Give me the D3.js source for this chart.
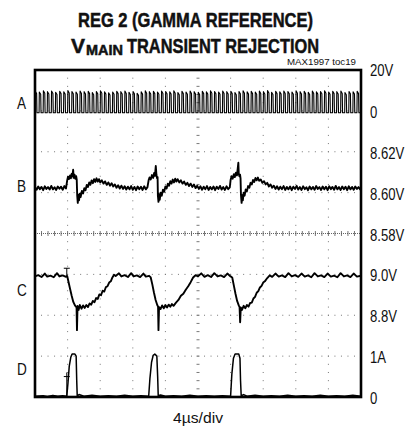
<!doctype html>
<html lang="en">
<head>
<meta charset="UTF-8">
<title>REG 2 (Gamma Reference) VMAIN Transient Rejection</title>
<script src="https://cdn.jsdelivr.net/npm/d3@7/dist/d3.min.js"></script>
<style>
    body { margin: 0; background: #fff; }
    svg text { font-family: "Liberation Sans Narrow", "Arial Narrow", "Liberation Sans", sans-serif; fill: #111; }
</style>
</head>
<body>
<svg id="chart" width="416" height="429"></svg>
<script>
// time axis, 4us/div, 10 divisions
const timeDomain = [0, 40];

// channel A: switching node, peak level of each 0.5us cycle (V)
const aPeriod = 0.5;
const aLow = -0.9;
const aPeaks = [
    9.6, 9.2, 9.8, 9.4, 9.7, 9.1, 9.6, 9.3, 9.9, 9.5,
    9.2, 9.7, 9.4, 9.6, 9.0, 9.5, 9.8, 9.3, 8.8, 9.2,
    9.6, 9.4, 9.7, 9.1, 9.5, 8.6, 9.3, 9.8, 9.4, 9.6,
    9.2, 9.7, 9.5, 9.3, 9.8, 9.0, 9.6, 9.2, 9.7, 9.4,
    9.1, 9.6, 9.3, 9.8, 9.5, 9.2, 9.7, 9.4, 9.6, 9.0,
    9.5, 9.8, 9.3, 9.6, 9.2, 9.7, 9.4, 9.9, 9.1, 9.6,
    9.3, 9.7, 9.5, 9.2, 9.8, 9.4, 9.6, 9.1, 9.7, 9.3,
    9.5, 9.8, 9.2, 9.6, 9.4, 9.7, 9.0, 9.5, 9.3, 9.6
];

// channel B: REG 2 output (V)
const bTrace = [
    [0,8.6026],[0.2,8.6014],[0.4,8.6030],[0.6,8.6017],[0.8,8.6028],[1.0,8.6012],[1.2,8.6031],[1.4,8.6018],
    [1.6,8.6027],[1.8,8.6015],[2.0,8.6033],[2.2,8.6016],[2.4,8.6026],[2.6,8.6013],[2.8,8.6030],[3.0,8.6019],
    [3.2,8.6029],[3.4,8.6014],[3.6,8.6032],[3.8,8.6020],
    [3.95,8.6060],[4.05,8.6078],[4.15,8.6066],[4.3,8.6084],[4.4,8.6070],[4.5,8.6092],[4.6,8.6080],
    [4.68,8.6112],[4.74,8.6072],[4.85,8.6088],[4.95,8.6068],[5.05,8.6080],[5.12,8.6064],
    [5.18,8.5985],[5.25,8.5950],[5.32,8.5990],[5.4,8.5962],[5.5,8.5995],[5.6,8.5978],[5.75,8.6008],
    [5.9,8.5996],[6.05,8.6022],[6.2,8.6012],[6.35,8.6038],[6.5,8.6028],[6.65,8.6050],[6.8,8.6038],
    [6.95,8.6060],[7.1,8.6046],[7.25,8.6066],[7.4,8.6052],[7.55,8.6070],[7.7,8.6054],[7.85,8.6066],
    [8.0,8.6050],[8.2,8.6060],[8.4,8.6044],[8.6,8.6055],[8.8,8.6038],[9.0,8.6050],[9.2,8.6034],
    [9.4,8.6046],[9.6,8.6030],[9.8,8.6040],[10.0,8.6024],[10.2,8.6036],[10.4,8.6020],[10.6,8.6034],
    [10.8,8.6018],[11.0,8.6031],[11.2,8.6015],[11.4,8.6029],[11.6,8.6016],[11.8,8.6032],[12.0,8.6014],
    [12.2,8.6028],[12.4,8.6012],[12.6,8.6030],[12.8,8.6017],[13.0,8.6029],[13.2,8.6013],[13.4,8.6031],
    [13.6,8.6016],[13.8,8.6027],
    [13.95,8.6062],[14.05,8.6074],[14.2,8.6064],[14.35,8.6086],[14.5,8.6072],[14.62,8.6096],[14.72,8.6082],
    [14.82,8.6130],[14.9,8.6086],[14.98,8.6070],[15.04,8.6076],
    [15.08,8.5985],[15.15,8.5955],[15.22,8.5992],[15.3,8.5965],[15.42,8.6000],[15.55,8.5985],[15.7,8.6014],
    [15.85,8.6004],[16.0,8.6030],[16.15,8.6020],[16.3,8.6044],[16.45,8.6034],[16.6,8.6056],[16.75,8.6044],
    [16.9,8.6064],[17.05,8.6050],[17.2,8.6068],[17.35,8.6054],[17.5,8.6066],[17.7,8.6050],[17.9,8.6060],
    [18.1,8.6044],[18.3,8.6054],[18.5,8.6038],[18.7,8.6048],[18.9,8.6032],[19.1,8.6044],[19.3,8.6028],
    [19.5,8.6040],[19.7,8.6022],[19.9,8.6034],[20.1,8.6018],[20.3,8.6031],[20.5,8.6014],[20.7,8.6029],
    [20.9,8.6017],[21.1,8.6032],[21.3,8.6013],[21.5,8.6028],[21.7,8.6016],[21.9,8.6030],[22.1,8.6012],
    [22.3,8.6029],[22.5,8.6018],[22.7,8.6033],[22.9,8.6015],[23.1,8.6027],[23.3,8.6013],[23.5,8.6031],
    [23.7,8.6017],[23.9,8.6026],
    [24.0,8.6062],[24.12,8.6080],[24.25,8.6068],[24.4,8.6090],[24.52,8.6076],[24.65,8.6098],[24.78,8.6084],
    [24.88,8.6120],[24.95,8.6146],[25.0,8.6094],[25.08,8.6080],[25.16,8.6088],[25.22,8.6070],
    [25.27,8.5990],[25.35,8.5950],[25.42,8.5988],[25.5,8.5962],[25.6,8.6000],[25.72,8.5985],[25.85,8.6015],
    [26.0,8.6006],[26.15,8.6032],[26.3,8.6024],[26.45,8.6048],[26.6,8.6040],[26.75,8.6062],[26.9,8.6052],
    [27.05,8.6072],[27.2,8.6060],[27.35,8.6074],[27.5,8.6058],[27.7,8.6064],[27.9,8.6048],[28.1,8.6056],
    [28.3,8.6040],[28.5,8.6048],[28.7,8.6030],[28.9,8.6040],[29.1,8.6024],[29.3,8.6034],[29.5,8.6018],
    [29.7,8.6031],[29.9,8.6015],[30.1,8.6029],[30.3,8.6017],[30.5,8.6032],[30.7,8.6013],[30.9,8.6028],
    [31.1,8.6016],[31.3,8.6030],[31.5,8.6012],[31.7,8.6029],[31.9,8.6018],[32.1,8.6033],[32.3,8.6015],
    [32.5,8.6027],[32.7,8.6013],[32.9,8.6031],[33.1,8.6017],[33.3,8.6026],[33.5,8.6012],[33.7,8.6030],
    [33.9,8.6016],[34.1,8.6028],[34.3,8.6014],[34.5,8.6032],[34.7,8.6018],[34.9,8.6027],[35.1,8.6013],
    [35.3,8.6030],[35.5,8.6016],[35.7,8.6029],[35.9,8.6012],[36.1,8.6031],[36.3,8.6017],[36.5,8.6028],
    [36.7,8.6014],[36.9,8.6033],[37.1,8.6016],[37.3,8.6027],[37.5,8.6013],[37.7,8.6030],[37.9,8.6017],
    [38.1,8.6029],[38.3,8.6012],[38.5,8.6031],[38.7,8.6016],[38.9,8.6028],[39.1,8.6014],[39.3,8.6030],
    [39.5,8.6018],[39.7,8.6027],[39.9,8.6015],[40.0,8.6024]
];

// channel C: VMAIN (V)
const cTrace = [
    [0,8.990],[0.4,8.996],[0.8,8.987],[1.2,9.004],[1.5,8.989],[1.9,8.994],[2.3,8.986],[2.7,9.006],
    [3.0,8.990],[3.4,8.995],[3.8,8.988],[3.95,8.992],
    [4.1,8.965],[4.3,8.930],[4.5,8.895],[4.7,8.865],[4.9,8.848],[5.1,8.838],[5.15,8.727],[5.22,8.845],
    [5.35,8.826],[5.5,8.850],[5.7,8.832],[5.9,8.848],[6.1,8.836],[6.3,8.850],[6.5,8.840],[6.7,8.858],
    [6.9,8.852],[7.1,8.870],[7.3,8.864],[7.5,8.884],[7.7,8.880],[7.9,8.902],[8.1,8.898],[8.3,8.920],
    [8.5,8.916],[8.7,8.938],[8.9,8.942],[9.1,8.960],[9.3,8.966],[9.5,8.985],[9.7,8.998],[9.9,8.992],
    [10.3,9.005],[10.6,8.990],[11.0,8.996],[11.4,8.987],[11.8,9.006],[12.1,8.990],[12.5,8.995],
    [12.9,8.987],[13.3,9.004],[13.6,8.989],[14.0,8.993],
    [14.2,8.985],[14.4,8.950],[14.6,8.910],[14.8,8.875],[15.0,8.850],[15.1,8.842],[15.15,8.727],
    [15.22,8.840],[15.4,8.830],[15.6,8.848],[15.8,8.834],[16.0,8.850],[16.2,8.838],[16.4,8.852],
    [16.6,8.842],[16.8,8.855],[17.0,8.846],[17.3,8.862],[17.6,8.875],[17.9,8.895],[18.2,8.905],
    [18.5,8.925],[18.8,8.942],[19.1,8.962],[19.4,8.985],[19.7,8.996],[20.0,8.990],[20.4,9.005],
    [20.8,8.988],[21.2,8.996],[21.6,8.987],[22.0,9.006],[22.4,8.990],[22.8,8.995],[23.2,8.987],
    [23.6,9.004],[24.0,8.990],
    [24.2,8.985],[24.4,8.945],[24.6,8.905],[24.8,8.870],[25.0,8.848],[25.1,8.840],[25.17,8.766],
    [25.25,8.838],[25.4,8.826],[25.6,8.846],[25.8,8.834],[26.0,8.850],[26.2,8.842],[26.4,8.860],
    [26.6,8.862],[26.8,8.882],[27.0,8.890],[27.2,8.910],[27.4,8.918],[27.6,8.936],[27.8,8.944],
    [28.0,8.960],[28.2,8.966],[28.5,8.982],[28.8,8.995],[29.1,8.988],[29.5,9.004],[29.9,8.989],
    [30.3,8.995],[30.7,8.987],[31.1,9.006],[31.5,8.990],[31.9,8.996],[32.3,8.988],[32.7,9.004],
    [33.1,8.989],[33.5,8.995],[33.9,8.986],[34.3,9.006],[34.7,8.990],[35.1,8.995],[35.5,8.987],
    [35.9,9.004],[36.3,8.989],[36.7,8.994],[37.1,8.986],[37.5,9.006],[37.9,8.990],[38.3,8.995],
    [38.7,8.987],[39.1,9.004],[39.5,8.989],[40.0,8.993]
];

// channel D: load current (A)
const dTrace = [
    [0,0.02],[1.0,0.03],[1.5,0.01],[2.2,0.04],[2.8,0.02],[3.4,0.03],[3.9,0.02],
    [4.05,0.35],[4.2,0.75],[4.4,0.98],[4.55,1.05],[4.9,1.05],[5.05,1.0],[5.12,0.4],[5.18,0.03],
    [5.4,0.06],[6,0.02],[7,0.04],[8,0.02],[9,0.03],[10,0.02],[11,0.04],[12,0.02],[13,0.03],[13.95,0.02],
    [14.1,0.45],[14.3,0.85],[14.5,1.02],[14.7,1.05],[14.95,1.0],[15.05,0.5],[15.12,0.03],
    [15.4,0.05],[16,0.02],[17,0.03],[18,0.02],[19,0.04],[20,0.02],[21,0.03],[22,0.02],[23,0.03],[24,0.02],
    [24.15,0.55],[24.35,0.95],[24.55,1.05],[25.0,1.05],[25.15,0.95],[25.22,0.4],[25.3,0.03],
    [25.6,0.06],[26,0.02],[27,0.04],[28,0.02],[29,0.03],[30,0.02],[31,0.04],[32,0.02],[33,0.03],
    [34,0.02],[35,0.04],[36,0.02],[37,0.03],[38,0.02],[39,0.04],[40,0.02]
];

const triggerTime = 3.9;

// right-hand scale labels per channel
const tickA = [[20, "20V"], [0, "0"]];
const tickB = [[8.62, "8.62V"], [8.60, "8.60V"], [8.58, "8.58V"]];
const tickC = [[9.0, "9.0V"], [8.8, "8.8V"]];
const tickD = [[1, "1A"], [0, "0"]];

const svg = d3.select("#chart");

// squeeze a text node horizontally, the original uses a condensed face
function condense(t, f) {
    const w = t.node().getComputedTextLength();
    t.attr("textLength", w * f).attr("lengthAdjust", "spacingAndGlyphs");
    return t;
}

// screen frame (10 x 8 divisions)
const fLeft = 35, fRight = 361, fTop = 70, fBottom = 397;
const divX = (fRight - fLeft) / 10, divY = (fBottom - fTop) / 8;

const x = d3.scaleLinear().domain(timeDomain).range([fLeft, fRight]);
const yA = d3.scaleLinear().domain([0, 20]).range([fTop + divY, fTop]);
const yB = d3.scaleLinear().domain([8.58, 8.62]).range([fTop + 4 * divY, fTop + 2 * divY]);
const yC = d3.scaleLinear().domain([8.8, 9.0]).range([fTop + 6 * divY, fTop + 5 * divY]);
const yD = d3.scaleLinear().domain([0, 1]).range([fBottom, fTop + 7 * divY]);

// graticule: dotted lines, 5 dots per division
const grid = svg.append("g").attr("fill", "#777");
for (let i = 1; i < 10; i++) {
    if (i === 5) continue;
    for (let j = 0; j <= 40; j++) {
        grid.append("rect").attr("x", fLeft + i * divX - 0.5).attr("y", fTop + j * divY / 5 - 0.5)
            .attr("width", 1).attr("height", 1);
    }
}
for (let j = 1; j < 8; j++) {
    if (j === 4) continue;
    for (let i = 0; i <= 50; i++) {
        grid.append("rect").attr("x", fLeft + i * divX / 5 - 0.5).attr("y", fTop + j * divY - 0.5)
            .attr("width", 1).attr("height", 1);
    }
}
// centre lines with minor ticks
const cx = fLeft + 5 * divX, cy = fTop + 4 * divY;
svg.append("line").attr("x1", fLeft).attr("x2", fRight).attr("y1", cy).attr("y2", cy)
    .attr("stroke", "#666").attr("stroke-width", 1).attr("stroke-dasharray", "1,1");
for (let i = 1; i < 50; i++) {
    svg.append("line").attr("x1", fLeft + i * divX / 5).attr("x2", fLeft + i * divX / 5)
        .attr("y1", cy - 2.5).attr("y2", cy + 2.5).attr("stroke", "#555").attr("stroke-width", 0.8);
}
for (let j = 1; j < 40; j++) {
    svg.append("line").attr("x1", cx - 1.5).attr("x2", cx + 1.5)
        .attr("y1", fTop + j * divY / 5).attr("y2", fTop + j * divY / 5)
        .attr("stroke", "#555").attr("stroke-width", 0.8);
}

// channel A waveform from the per-cycle peaks
const aTrace = [];
aPeaks.forEach((p, k) => {
    const t0 = k * aPeriod;
    aTrace.push([t0, aLow], [t0 + 0.03, p], [t0 + 0.2, p * 0.88], [t0 + 0.24, aLow]);
});
aTrace.push([timeDomain[1], aLow]);

const traces = [
    { data: aTrace, y: yA, w: 1.1 },
    { data: bTrace, y: yB, w: 1.9 },
    { data: cTrace, y: yC, w: 1.9 },
    { data: dTrace, y: yD, w: 1.5 }
];
traces.forEach(tr => {
    svg.append("path")
        .datum(tr.data)
        .attr("fill", "none")
        .attr("stroke", "#000")
        .attr("stroke-width", tr.w)
        .attr("stroke-linejoin", "round")
        .attr("d", d3.line().x(d => x(d[0])).y(d => tr.y(d[1])));
});

// trigger markers
svg.append("path")
    .attr("d", `M${x(triggerTime) - 3},${yC(9.03)}H${x(triggerTime) + 3}M${x(triggerTime)},${yC(9.03)}V${yC(8.99)}`)
    .attr("stroke", "#000").attr("stroke-width", 1).attr("fill", "none");
svg.append("path")
    .attr("d", `M${x(triggerTime) - 3},${yD(0.5)}H${x(triggerTime) + 3}M${x(triggerTime)},${yD(0.6)}V${yD(0.02)}`)
    .attr("stroke", "#000").attr("stroke-width", 1).attr("fill", "none");

// frame
svg.append("rect").attr("x", fLeft).attr("y", fTop).attr("width", fRight - fLeft).attr("height", fBottom - fTop)
    .attr("fill", "none").attr("stroke", "#000").attr("stroke-width", 2.6);

// right labels
const labels = svg.append("g").attr("font-size", 16);
[[tickA, yA], [tickB, yB], [tickC, yC], [tickD, yD]].forEach(([ticks, sc]) => {
    ticks.forEach(([v, s]) => {
        const t = labels.append("text").attr("x", 370).attr("y", sc(v) + (sc(v) === fTop ? 6 : 7)).text(s);
        condense(t, 0.82);
    });
});

// channel names
[["A", 109], ["B", 192], ["C", 296], ["D", 375]].forEach(([s, yy]) => {
    condense(svg.append("text").attr("x", 17).attr("y", yy).attr("font-size", 16).text(s), 0.85);
});

// titles
const heavy = t => t.attr("font-weight", "bold").attr("stroke", "#111").attr("stroke-width", 0.5);
heavy(svg.append("text").attr("x", 78).attr("y", 27).attr("font-size", 21))
    .attr("textLength", 235).attr("lengthAdjust", "spacingAndGlyphs").text("REG 2 (GAMMA REFERENCE)");
heavy(svg.append("text").attr("x", 71).attr("y", 53).attr("font-size", 21))
    .attr("textLength", 14).attr("lengthAdjust", "spacingAndGlyphs").text("V");
heavy(svg.append("text").attr("x", 86).attr("y", 55).attr("font-size", 14))
    .attr("textLength", 37).attr("lengthAdjust", "spacingAndGlyphs").text("MAIN");
heavy(svg.append("text").attr("x", 127).attr("y", 53).attr("font-size", 21))
    .attr("textLength", 192).attr("lengthAdjust", "spacingAndGlyphs").text("TRANSIENT REJECTION");
svg.append("text").attr("x", 287).attr("y", 65).attr("font-size", 9.5)
    .attr("textLength", 69).attr("lengthAdjust", "spacingAndGlyphs").text("MAX1997 toc19");
svg.append("text").attr("x", 173).attr("y", 423).attr("font-size", 15)
    .attr("textLength", 50).attr("lengthAdjust", "spacingAndGlyphs").text("4µs/div");
</script>
</body>
</html>
